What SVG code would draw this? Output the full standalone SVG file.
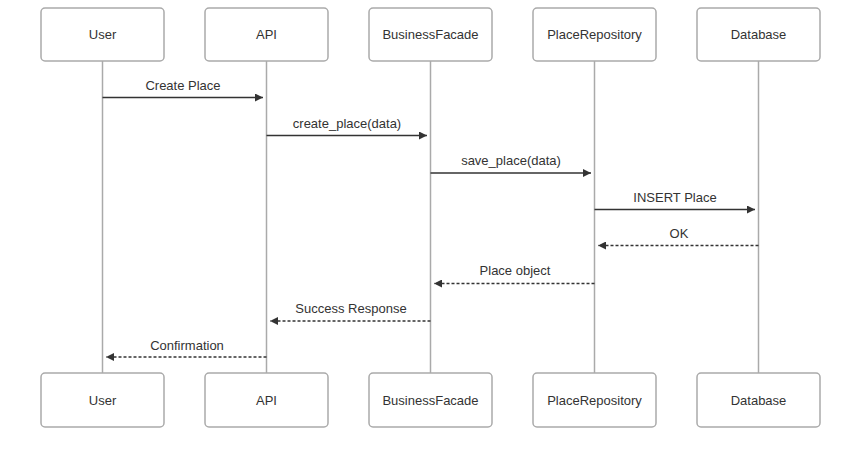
<svg xmlns="http://www.w3.org/2000/svg" width="864" height="462" viewBox="0 0 864 462">
<style>
.box{fill:#fff;stroke:#aaa;stroke-width:1.5}
.life{stroke:#aaa;stroke-width:1.5}
.t{font-family:"Liberation Sans",Arial,sans-serif;font-size:13px;fill:#333;text-anchor:middle}
.msg{stroke:#333;stroke-width:1.5;fill:none}
.ret{stroke:#333;stroke-width:1.5;fill:none;stroke-dasharray:3,2}
</style>
<defs>
<marker id="ah" viewBox="0 0 10 10" refX="10" refY="5" markerWidth="10" markerHeight="8" markerUnits="userSpaceOnUse" orient="auto">
<path d="M0,0 L10,5 L0,10 z" fill="#333"/>
</marker>
</defs>
<rect width="864" height="462" fill="#fff"/>
<g id="lifelines">
<line class="life" x1="102.5" y1="61" x2="102.5" y2="373"/>
<line class="life" x1="266.5" y1="61" x2="266.5" y2="373"/>
<line class="life" x1="430.5" y1="61" x2="430.5" y2="373"/>
<line class="life" x1="594.5" y1="61" x2="594.5" y2="373"/>
<line class="life" x1="758.5" y1="61" x2="758.5" y2="373"/>
</g>
<g id="user-top"><rect class="box" x="41" y="8" width="123" height="53" rx="4"/><text class="t" x="102.5" y="39">User</text></g>
<g id="api-top"><rect class="box" x="205" y="8" width="123" height="53" rx="4"/><text class="t" x="266.5" y="39">API</text></g>
<g id="facade-top"><rect class="box" x="369" y="8" width="123" height="53" rx="4"/><text class="t" x="430.5" y="39">BusinessFacade</text></g>
<g id="repo-top"><rect class="box" x="533" y="8" width="123" height="53" rx="4"/><text class="t" x="594.5" y="39">PlaceRepository</text></g>
<g id="db-top"><rect class="box" x="697" y="8" width="123" height="53" rx="4"/><text class="t" x="758.5" y="39">Database</text></g>
<g id="user-bottom"><rect class="box" x="41" y="373" width="123" height="54" rx="4"/><text class="t" x="102.5" y="405">User</text></g>
<g id="api-bottom"><rect class="box" x="205" y="373" width="123" height="54" rx="4"/><text class="t" x="266.5" y="405">API</text></g>
<g id="facade-bottom"><rect class="box" x="369" y="373" width="123" height="54" rx="4"/><text class="t" x="430.5" y="405">BusinessFacade</text></g>
<g id="repo-bottom"><rect class="box" x="533" y="373" width="123" height="54" rx="4"/><text class="t" x="594.5" y="405">PlaceRepository</text></g>
<g id="db-bottom"><rect class="box" x="697" y="373" width="123" height="54" rx="4"/><text class="t" x="758.5" y="405">Database</text></g>
<g id="connectors">
<line class="msg" x1="102.5" y1="97.5" x2="263" y2="97.5" marker-end="url(#ah)"/>
<text class="t" x="183" y="90">Create Place</text>
<line class="msg" x1="266.5" y1="135.5" x2="427" y2="135.5" marker-end="url(#ah)"/>
<text class="t" x="347" y="128">create_place(data)</text>
<line class="msg" x1="430.5" y1="173" x2="591" y2="173" marker-end="url(#ah)"/>
<text class="t" x="511" y="165">save_place(data)</text>
<line class="msg" x1="594.5" y1="209.5" x2="755" y2="209.5" marker-end="url(#ah)"/>
<text class="t" x="675" y="202">INSERT Place</text>
<line class="ret" x1="758.5" y1="245.5" x2="598" y2="245.5" marker-end="url(#ah)"/>
<text class="t" x="679" y="238">OK</text>
<line class="ret" x1="594.5" y1="283.5" x2="434" y2="283.5" marker-end="url(#ah)"/>
<text class="t" x="515" y="275">Place object</text>
<line class="ret" x1="430.5" y1="321" x2="270" y2="321" marker-end="url(#ah)"/>
<text class="t" x="351" y="313">Success Response</text>
<line class="ret" x1="266.5" y1="357" x2="106" y2="357" marker-end="url(#ah)"/>
<text class="t" x="187" y="350">Confirmation</text>
</g>
</svg>
